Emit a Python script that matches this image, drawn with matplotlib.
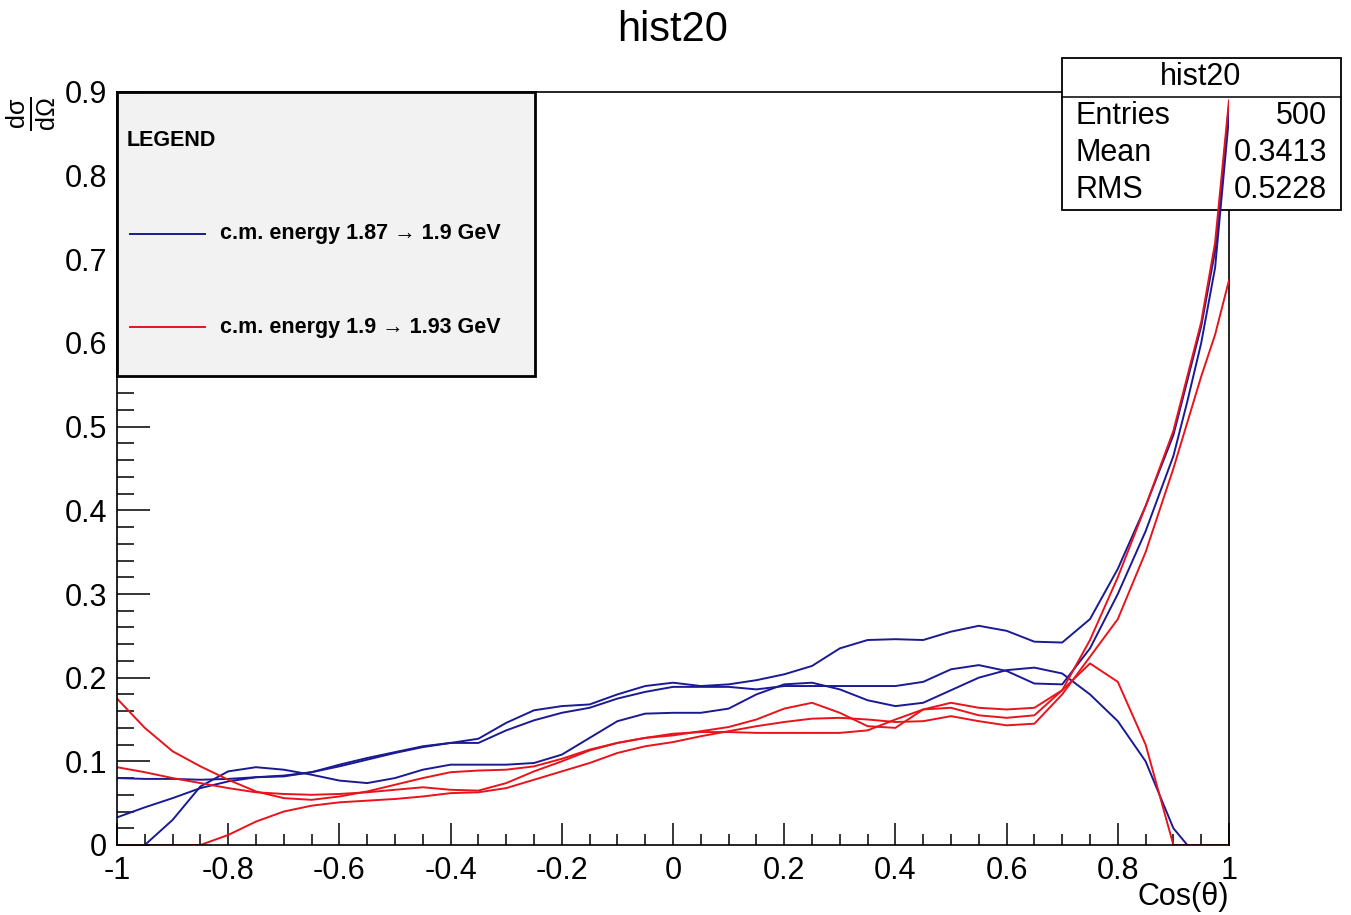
import matplotlib
matplotlib.use("Agg")
import matplotlib.pyplot as plt
from matplotlib.patches import Rectangle
from matplotlib.ticker import MultipleLocator

plt.rcParams['font.family'] = ['Liberation Sans', 'DejaVu Sans']
plt.rcParams['mathtext.fontset'] = 'custom'
plt.rcParams['mathtext.rm'] = 'Liberation Sans'

# values (d sigma / d Omega vs cos theta)
cos_theta = [-1.0, -0.95, -0.9, -0.85, -0.8, -0.75, -0.7, -0.65, -0.6, -0.55,
             -0.5, -0.45, -0.4, -0.35, -0.3, -0.25, -0.2, -0.15, -0.1, -0.05,
             0.0, 0.05, 0.1, 0.15, 0.2, 0.25, 0.3, 0.35, 0.4, 0.45,
             0.5, 0.55, 0.6, 0.65, 0.7, 0.75, 0.8, 0.85, 0.9, 0.925, 0.95, 0.975, 1.0]

blue_1 = [0.033, 0.045, 0.056, 0.068, 0.076, 0.081, 0.082, 0.087, 0.096, 0.104,
          0.111, 0.118, 0.122, 0.127, 0.146, 0.161, 0.166, 0.168, 0.180, 0.190,
          0.194, 0.190, 0.192, 0.197, 0.204, 0.214, 0.235, 0.245, 0.246, 0.245,
          0.255, 0.262, 0.256, 0.243, 0.242, 0.270, 0.330, 0.405, 0.490, 0.555, 0.620, 0.710, 0.885]
blue_2 = [0.080, 0.079, 0.079, 0.078, 0.079, 0.081, 0.083, 0.087, 0.094, 0.102,
          0.110, 0.117, 0.122, 0.122, 0.137, 0.149, 0.158, 0.164, 0.175, 0.183,
          0.189, 0.189, 0.189, 0.186, 0.190, 0.190, 0.190, 0.190, 0.190, 0.195,
          0.210, 0.215, 0.208, 0.193, 0.192, 0.235, 0.300, 0.375, 0.465, 0.530, 0.600, 0.690, 0.870]
blue_3 = [0.0, 0.0, 0.030, 0.070, 0.088, 0.093, 0.090, 0.084, 0.077, 0.074,
          0.080, 0.090, 0.096, 0.096, 0.096, 0.098, 0.108, 0.128, 0.148, 0.157,
          0.158, 0.158, 0.163, 0.180, 0.192, 0.194, 0.186, 0.173, 0.166, 0.170,
          0.185, 0.200, 0.209, 0.212, 0.205, 0.180, 0.148, 0.100, 0.020, 0.0, 0.0, 0.0, 0.0]
red_1 = [0.175, 0.140, 0.112, 0.094, 0.078, 0.064, 0.056, 0.054, 0.058, 0.064,
         0.072, 0.080, 0.087, 0.089, 0.090, 0.094, 0.103, 0.114, 0.122, 0.128,
         0.131, 0.136, 0.141, 0.150, 0.163, 0.170, 0.158, 0.142, 0.140, 0.162,
         0.170, 0.164, 0.162, 0.164, 0.185, 0.217, 0.195, 0.120, 0.0, 0.0, 0.0, 0.0, 0.0]
red_2 = [0.093, 0.087, 0.080, 0.074, 0.068, 0.063, 0.061, 0.060, 0.061, 0.063,
         0.066, 0.069, 0.066, 0.065, 0.074, 0.088, 0.100, 0.113, 0.122, 0.128,
         0.133, 0.135, 0.135, 0.134, 0.134, 0.134, 0.134, 0.137, 0.150, 0.162,
         0.164, 0.155, 0.152, 0.155, 0.185, 0.245, 0.320, 0.405, 0.495, 0.560, 0.625, 0.720, 0.890]
red_3 = [0.0, 0.0, 0.0, 0.0, 0.012, 0.028, 0.040, 0.047, 0.051, 0.053,
         0.055, 0.058, 0.062, 0.063, 0.068, 0.078, 0.088, 0.098, 0.110, 0.118,
         0.123, 0.130, 0.136, 0.142, 0.147, 0.151, 0.152, 0.150, 0.147, 0.148,
         0.154, 0.148, 0.143, 0.145, 0.180, 0.225, 0.270, 0.350, 0.450, 0.505, 0.560, 0.610, 0.675]

legend_labels = ["c.m. energy 1.87 \u2192 1.9 GeV", "c.m. energy 1.9 \u2192 1.93 GeV"]
stats_names = ["Entries", "Mean", "RMS"]
stats_values = ["500", "0.3413", "0.5228"]

BLUE = "#1a1a94"
RED = "#e8131b"

W, H = 1351, 915
fig = plt.figure(figsize=(W / 100, H / 100), dpi=100)
ax = fig.add_axes([117 / W, 1 - 845 / H, 1112 / W, 753 / H])

for blue, red in [(blue_1, red_1), (blue_2, red_2), (blue_3, red_3)]:
    ax.plot(cos_theta, blue, color=BLUE, lw=1.4, zorder=2)
    ax.plot(cos_theta, red, color=RED, lw=1.4, zorder=2.1)

ax.set_xlim(-1, 1)
ax.set_ylim(0, 0.9)
ax.xaxis.set_major_locator(MultipleLocator(0.2))
ax.xaxis.set_minor_locator(MultipleLocator(0.05))
ax.yaxis.set_major_locator(MultipleLocator(0.1))
ax.yaxis.set_minor_locator(MultipleLocator(0.02))
ax.xaxis.set_major_formatter(lambda v, p: "%g" % round(v, 2))
ax.yaxis.set_major_formatter(lambda v, p: "%g" % round(v, 2))
ax.tick_params(axis='x', which='major', direction='in', length=16, width=1.1, labelsize=22, pad=8)
ax.tick_params(axis='x', which='minor', direction='in', length=8, width=1.1)
ax.tick_params(axis='y', which='major', direction='in', length=24, width=1.1, labelsize=22, pad=7)
ax.tick_params(axis='y', which='minor', direction='in', length=12, width=1.1)
for s in ax.spines.values():
    s.set_linewidth(1.2)
ax.spines['top'].set_zorder(1)
ax.spines['right'].set_zorder(1)

# stats box (under the curves, over the frame)
tf = fig.transFigure
ax.add_patch(Rectangle((1062 / W, 1 - 210 / H), 279 / W, 152 / H, transform=tf,
                       facecolor='white', edgecolor='black', lw=1.3, zorder=1.5, clip_on=False))
ax.plot([1062 / W, 1341 / W], [1 - 97 / H, 1 - 97 / H], transform=tf, color='black',
        lw=1.1, zorder=1.55, clip_on=False)
ax.text(1201 / W, 1 - 77 / H, "hist20", transform=tf, ha='center', va='center',
        fontsize=22, zorder=1.6)
for i, (name, val) in enumerate(zip(stats_names, stats_values)):
    yy = 1 - (116 + 37 * i) / H
    ax.text(1075 / W, yy, name, transform=tf, ha='left', va='center', fontsize=22, zorder=1.6)
    ax.text(1327 / W, yy, val, transform=tf, ha='right', va='center', fontsize=22, zorder=1.6)

# legend box
lx1 = (535 - 117) / 1112
ly0 = (845 - 376) / 753
ax.add_patch(Rectangle((0, ly0), lx1, 1 - ly0, transform=ax.transAxes, facecolor='#f2f2f2',
                       edgecolor='black', lw=2, zorder=5, clip_on=False))
ax.text(0.009, (845 - 141) / 753, "LEGEND", transform=ax.transAxes, fontsize=15.5,
        fontweight='bold', ha='left', va='center', zorder=6)
for label, color, py in zip(legend_labels, [BLUE, RED], [234, 327]):
    yy = (845 - py) / 753
    ax.plot([0.0117, 0.079], [yy, yy], transform=ax.transAxes, color=color, lw=1.4,
            zorder=6, clip_on=False)
    ax.text(0.0926, yy, label, transform=ax.transAxes, fontsize=15.5, fontweight='bold',
            ha='left', va='center', zorder=6)

fig.text(673 / W, 1 - 30 / H, "hist20", ha='center', va='center', fontsize=30)
fig.text(1229 / W, 1 - 897 / H, "Cos(\u03b8)", ha='right', va='center', fontsize=22)
fig.text(31 / W, 1 - 114 / H, r'$\mathrm{\frac{d\sigma}{d\Omega}}$', rotation=90,
         ha='center', va='center', fontsize=26)

fig.savefig("out.png", dpi=100)
